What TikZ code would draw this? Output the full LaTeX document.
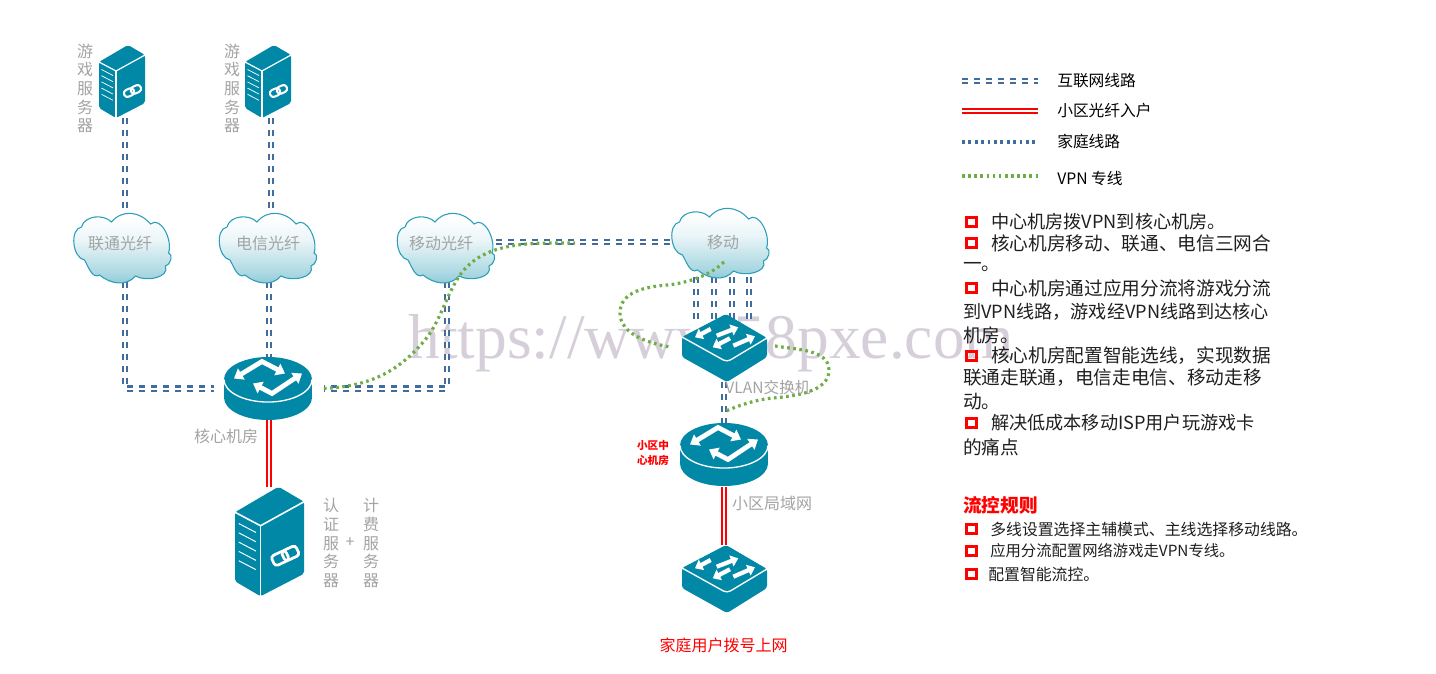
\documentclass[tikz,border=0pt]{standalone}
\usepackage{fontspec}
\setmainfont{Noto Sans CJK SC}
\newfontfamily\markfont{Liberation Serif}
\usetikzlibrary{arrows.meta}

\definecolor{iconteal}{HTML}{0088A6}
\definecolor{cloudedge}{HTML}{2A9DB8}
\definecolor{netblue}{HTML}{426C9B}
\definecolor{vpngreen}{HTML}{70AD47}
\definecolor{labelgrey}{HTML}{A3A3A3}
\definecolor{markgrey}{HTML}{D6CFDA}

\pgfdeclareverticalshading{cloudfade}{100bp}{
  color(0bp)=(iconteal); color(12bp)=(iconteal!75); color(32bp)=(iconteal!35); color(55bp)=(iconteal!8); color(70bp)=(white); color(100bp)=(white)}

\tikzset{
  srvbox/.style={minimum width=34.5pt, minimum height=54.75pt, inner sep=0pt},
  srvbig/.style={minimum width=51.75pt, minimum height=81.75pt, inner sep=0pt},
  cloudbox/.style={minimum width=73.5pt, minimum height=52.5pt, inner sep=0pt},
  rtbox/.style={minimum width=66pt, minimum height=47.25pt, inner sep=0pt},
  swbox/.style={minimum width=64pt, minimum height=51pt, inner sep=0pt},
  netline/.style={draw=netblue, line width=1.7pt, double=white, double distance=1.5pt, dash pattern=on 4.5pt off 4.5pt},
  fibreline/.style={draw=red, line width=1.5pt, double=white, double distance=1.2pt},
  homeline/.style={draw=netblue, line width=2.7pt, dash pattern=on 2.1pt off 2.7pt},
  vpnline/.style={draw=vpngreen, line width=2.4pt, dash pattern=on 2pt off 2.6pt},
  greytext/.style={text=labelgrey, font=\fontsize{12}{14}\selectfont, align=center, inner sep=0pt},
  keytext/.style={anchor=west, font=\fontsize{11.8}{13}\selectfont, inner sep=0pt},
  bodytext/.style={anchor=west, font=\fontsize{14}{16}\selectfont, text=black!88, inner sep=0pt},
  ruletext/.style={anchor=west, font=\fontsize{11.9}{14}\selectfont, text=black!88, inner sep=0pt},
  tickbox/.style={draw=red, line width=2pt, minimum width=7.8pt, minimum height=7pt, inner sep=0pt},
  srvicon/.pic={
    \fill[iconteal, rounded corners=1.5pt] (6,-36.5) -- (23,-26.5) -- (23,21.5) -- (-6,36.5) -- (-23,26.5) -- (-23,-19.5) -- cycle;
    \draw[white, line width=#1] (-23,-19.5) -- (-6,-10.5) -- (23,-26.5);
    \draw[white, line width=#1] (-6,-10.5) -- (-6,36.5);
    \foreach \s in {0,1,2,3,4} \draw[white, line width=.6*#1] (-20.5,-12+6.2*\s) -- (-9,-6+6.2*\s);
    \begin{scope}[shift={(10.5,9.5)}, rotate=25]
      \draw[white, line width=1.7*#1, rounded corners=2.4pt] (-9,-3.6) rectangle (1.5,3.6);
      \draw[white, line width=1.7*#1, rounded corners=2.4pt] (-1.5,-3.6) rectangle (9,3.6);
    \end{scope}
  },
  rticon/.pic={
    \fill[iconteal] (0,18) ellipse [x radius=33pt, y radius=16.9pt];
    \fill[iconteal] (-44,0) rectangle (44,18);
    \fill[iconteal] (0,0) ellipse [x radius=33pt, y radius=16.9pt];
    \draw[white, line width=1pt] (-44,0) arc [start angle=180, end angle=360, x radius=33pt, y radius=16.9pt];
    \draw[white, line width=3.6pt, {Triangle[length=6.5pt,width=9.5pt]}-{Triangle[length=6.5pt,width=9.5pt]}] (-34,-1) -- (-6,-18) -- (17,-6);
    \draw[white, line width=3.6pt, {Triangle[length=6.5pt,width=9.5pt]}-{Triangle[length=6.5pt,width=9.5pt]}] (-15,4) -- (4,14) -- (34,-6);
  },
  swicon/.pic={
    \fill[iconteal, rounded corners=2pt] (1.5,-34) -- (42.5,-10) -- (42.5,9) -- (2.5,34) -- (-42.5,9) -- (-42.5,-11) -- cycle;
    \draw[white, line width=1pt, rounded corners=3pt] (-42.5,-11) -- (2.5,14) -- (42.5,-10);
    \foreach \a/\b in {{(-13.8,-19)}/{(-29.5,-10.7)}, {(-7.8,-12.3)}/{(13.8,-20.7)}, {(5.5,-9.7)}/{(-11.8,-.7)}, {(8.8,-2.3)}/{(30.5,-11.7)}}
      \draw[white, line width=3.2pt, -{Triangle[length=5.5pt,width=8.5pt]}] \a -- \b;
  },
  cloudicon/.pic={
    \path[draw=cloudedge, line width=.8pt, shading=cloudfade]
      (-11,-25) to[out=50,in=130,looseness=1.1] (28,-23)
      to[out=40,in=70,looseness=1] (46,6)
      to[out=-10,in=10,looseness=1] (43,19)
      to[out=-70,in=-30,looseness=1] (13,29)
      to[out=-130,in=-40,looseness=1] (-23,28)
      to[out=-150,in=-60,looseness=1] (-38,13)
      to[out=170,in=190,looseness=.95] (-41,-20)
      to[out=75,in=135,looseness=1] (-11,-25) -- cycle;
  }
}

\begin{document}
\begin{tikzpicture}[x=.75pt, y=-.75pt]
\useasboundingbox (0,0) rectangle (1436,674);

\node[text=markgrey, font=\markfont\fontsize{47.6}{50}\selectfont, inner sep=0pt, anchor=base west] (mark) at (408,358) {https://www.58pxe.com};

\node[srvbox] (srvA) at (125,81.5) {};
\node[srvbox] (srvB) at (271,81.5) {};
\node[srvbig] (srvC) at (269,541.5) {};
\node[cloudbox] (cloudA) at (125,247) {};
\node[cloudbox] (cloudB) at (269,247) {};
\node[cloudbox] (cloudC) at (447,247) {};
\node[cloudbox] (cloudD) at (720.5,242) {};
\node[rtbox] (core) at (269,388.5) {};
\node[rtbox] (rtB) at (724,455) {};
\node[swbox] (swA) at (724,348) {};
\node[swbox] (swB) at (724,579) {};

\coordinate (tapA) at (696,320);
\coordinate (tapB) at (714,320);
\coordinate (tapC) at (732,320);
\coordinate (tapD) at (749,320);

% internet lines
\draw[netline] (srvA.south) -- (cloudA.north);
\draw[netline] (srvB.south) -- (cloudB.north -| srvB.south);
\draw[netline] (cloudA.south) |- ([xshift=-8pt]core.west);
\draw[netline] (cloudB.south) -- (core.north);
\draw[netline] (cloudC.south) |- ([xshift=8pt]core.east);
\draw[netline] (cloudC.east |- cloudD.west) -- (cloudD.west);
\draw[netline] (tapA |- cloudD.south) -- (tapA);
\draw[netline] (tapB |- cloudD.south) -- (tapB);
\draw[netline] (tapC |- cloudD.south) -- (tapC);
\draw[netline] (tapD |- cloudD.south) -- (tapD);
\draw[netline] (swA.south) -- (rtB.north);
\draw[fibreline] (core.south) -- (srvC.north);
\draw[fibreline] (rtB.south) -- (swB.north);

\pic at (122,81.5) {srvicon=.9pt};
\pic at (268,81.5) {srvicon=.9pt};
\pic[scale=1.5] at (269.5,541.5) {srvicon=1.2pt};
\pic at (122.5,247) {cloudicon};
\pic at (268,247) {cloudicon};
\pic at (446,247) {cloudicon};
\pic at (720.5,242) {cloudicon};
\pic at (268,379.5) {rticon};
\pic at (724,445.5) {rticon};
\pic at (724.5,348) {swicon};
\pic at (724.5,579) {swicon};

% vpn line
\coordinate (vpnA) at (575,243);
\coordinate (vpnB) at (724,262);
\coordinate (vpnC) at (670,347);
\coordinate (vpnD) at (775,346);
\coordinate (vpnE) at (724,412);
\draw[vpnline] ([xshift=8pt]core.east) to[out=3,in=-130,looseness=1] (425,340) to[out=50,in=-125,looseness=.8] (460,275) to[out=55,in=180,looseness=.9] (vpnA);
\draw[vpnline] (vpnB) to[out=-135,in=5,looseness=.8] (667,285) to[out=185,in=90,looseness=1] (620,313) to[out=-90,in=170,looseness=.9] (vpnC);
\draw[vpnline] (vpnD) to[out=-10,in=90,looseness=.9] (829,370) to[out=-90,in=5,looseness=.9] (773,398) to[out=185,in=25,looseness=.8] (vpnE);

% labels
\node[greytext] (gameA) at (85,88.5) {游\\戏\\服\\务\\器};
\node[greytext] (gameB) at (232,88.5) {游\\戏\\服\\务\\器};
\node[greytext] (authsrv) at (331,543) {认\\证\\服\\务\\器};
\node[greytext] (plus) at (350,543) {+};
\node[greytext] (billsrv) at (371,543) {计\\费\\服\\务\\器};
\node[greytext] (textA) at (120,243) {联通光纤};
\node[greytext] (textB) at (268,243) {电信光纤};
\node[greytext] (textC) at (441,243) {移动光纤};
\node[greytext] (textD) at (723,242) {移动};
\node[greytext] (textcore) at (226,436) {核心机房};
\node[greytext, font=\fontsize{11.7}{14}\selectfont] (textvlan) at (768,388) {VLAN交换机};
\node[greytext] (textlan) at (772,503) {小区局域网};
\node[greytext, text=red] (texthome) at (723.5,645) {家庭用户拨号上网};
\node[text=red, font=\bfseries\fontsize{8}{11}\selectfont, align=center, inner sep=0pt] (textroom) at (653,453) {小区中\\心机房};

% legend
\coordinate (keyA) at (962,81);
\coordinate (keyAe) at (1038,81);
\coordinate (keyB) at (962,111);
\coordinate (keyBe) at (1038,111);
\coordinate (keyC) at (962,142);
\coordinate (keyCe) at (1038,142);
\coordinate (keyD) at (962,176);
\coordinate (keyDe) at (1038,176);
\draw[netline] (keyA) -- (keyAe);
\draw[fibreline] (keyB) -- (keyBe);
\draw[homeline] (keyC) -- (keyCe);
\draw[vpnline, line width=2.7pt] (keyD) -- (keyDe);
\node[keytext] (textkeyA) at (1057,81) {互联网线路};
\node[keytext] (textkeyB) at (1057,111) {小区光纤入户};
\node[keytext] (textkeyC) at (1057,141) {家庭线路};
\node[keytext] (textkeyD) at (1057,179) {VPN 专线};

% notes
\node[tickbox] (tickA) at (971.5,222) {};
\node[bodytext, font=\fontsize{13.6}{16}\selectfont] (noteA) at (991,222) {中心机房拨VPN到核心机房。};
\node[tickbox] (tickB) at (971.5,243) {};
\node[bodytext] (noteB) at (991,243) {核心机房移动、联通、电信三网合};
\node[bodytext] (noteC) at (963,267) {一。};
\node[tickbox] (tickC) at (971.5,288) {};
\node[bodytext] (noteD) at (991,288) {中心机房通过应用分流将游戏分流};
\node[bodytext, font=\fontsize{13.6}{16}\selectfont] (noteE) at (963,312) {到VPN线路，游戏经VPN线路到达核心};
\node[bodytext] (noteF) at (963,335) {机房。};
\node[tickbox] (tickD) at (971.5,356) {};
\node[bodytext] (noteG) at (991,356) {核心机房配置智能选线，实现数据};
\node[bodytext] (noteH) at (963,378) {联通走联通，电信走电信、移动走移};
\node[bodytext] (noteI) at (963,402) {动。};
\node[tickbox] (tickE) at (971.5,423) {};
\node[bodytext, font=\fontsize{13.6}{16}\selectfont] (noteJ) at (991,423) {解决低成本移动ISP用户玩游戏卡};
\node[bodytext] (noteK) at (963,447) {的痛点};

% rules
\node[bodytext, text=red, font=\bfseries\fontsize{14}{16}\selectfont] (ruletitle) at (963,505) {流控规则};
\node[tickbox] (tickF) at (971.5,529) {};
\node[ruletext] (ruleA) at (990,529) {多线设置选择主辅模式、主线选择移动线路。};
\node[tickbox] (tickG) at (971.5,551) {};
\node[ruletext, font=\fontsize{11.5}{14}\selectfont] (ruleB) at (990,551) {应用分流配置网络游戏走VPN专线。};
\node[tickbox] (tickH) at (971.5,574) {};
\node[ruletext] (ruleC) at (988,574) {配置智能流控。};
\end{tikzpicture}
\end{document}
